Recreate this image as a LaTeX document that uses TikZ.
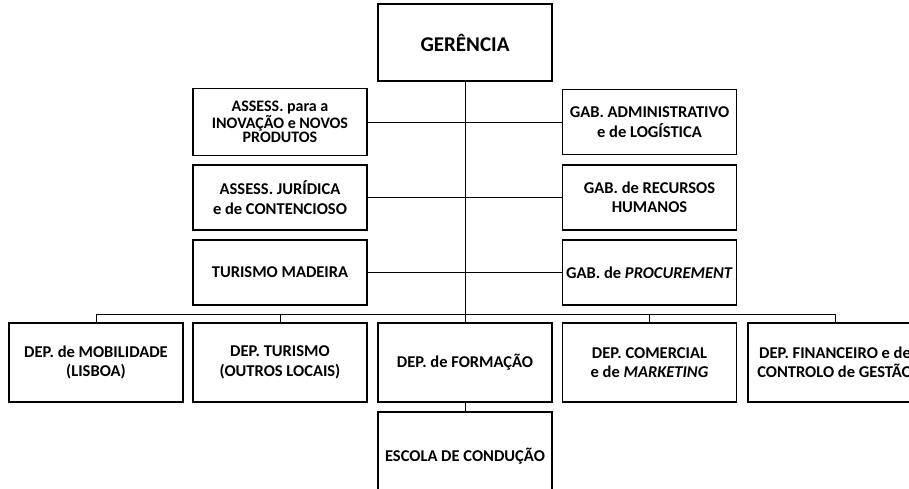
\documentclass[tikz,border=0pt]{standalone}
\usepackage{fontspec}
\setmainfont{Carlito}
\usepackage{tikz}
\usetikzlibrary{calc}
\def\boxW{174}
\def\lineThickness{(1.6pt)}
\def\connThickness{(0.9pt)}
\def\fScale{\fontsize{16.5}{19.5}\selectfont\bfseries}
\tikzset{unit/.style={draw=black,line width=\lineThickness,fill=white,minimum width=\boxW pt,inner sep=0,align=center,font=\fScale}}
\tikzset{conn/.style={black,line width=\connThickness,line cap=rect}}
\begin{document}
\begin{tikzpicture}[x=1pt,y=-1pt]
\useasboundingbox (0,0) rectangle (909,488);\clip (0,0) rectangle (909,488);
% top
\node[unit,minimum height=77pt,font=\fontsize{21}{24}\selectfont\bfseries] (ger) at (465,42.5) {GERÊNCIA};
% staff units, left and right
\node[unit,minimum height=67pt,font=\fontsize{16}{14.5}\selectfont\bfseries] (assI) at (280,122) {ASSESS. para a\\INOVAÇÃO e NOVOS\\PRODUTOS};
\node[unit,minimum height=65pt] (assJ) at (280,197.5) {ASSESS. JURÍDICA\\e de CONTENCIOSO};
\node[unit,minimum height=65pt] (tur) at (280,272.5) {TURISMO MADEIRA};
\node[unit,minimum height=65pt] (gabA) at (649.5,122) {GAB. ADMINISTRATIVO\\e de LOGÍSTICA};
\node[unit,minimum height=65pt] (gabR) at (649.5,197.5) {GAB. de RECURSOS\\HUMANOS};
\node[unit,minimum height=65pt] (gabP) at (649.5,272.5) {GAB. de \textit{PROCUREMENT}};
% departments
\node[unit,minimum height=79pt] (mob) at (96,362.5) {DEP. de MOBILIDADE\\(LISBOA)};
\node[unit,minimum height=79pt] (depT) at (280,362.5) {DEP. TURISMO\\(OUTROS LOCAIS)};
\node[unit,minimum height=79pt] (form) at (465,362.5) {DEP. de FORMAÇÃO};
\node[unit,minimum height=79pt] (com) at (649.5,362.5) {DEP. COMERCIAL\\e de \textit{MARKETING}};
\node[unit,minimum height=79pt] (fin) at (835,362.5) {DEP. FINANCEIRO e de\\CONTROLO de GESTÃO};
\node[unit,minimum height=88pt] (esc) at (465,456) {ESCOLA DE CONDUÇÃO};
% connectors
\draw[conn] (ger.south)--(form.north);
\draw[conn] (assI.east)--(gabA.west);\draw[conn] (assJ.east)--(gabR.west);\draw[conn] (tur.east)--(gabP.west);
\coordinate (bus) at (465,314);
\draw[conn] (mob.north)--(mob.north|-bus)--(fin.north|-bus)--(fin.north);
\foreach\n in {depT,com}{\draw[conn] (\n.north)--(\n.north|-bus);};
\draw[conn] (form.south)--(esc.north);
\end{tikzpicture}
\end{document}
